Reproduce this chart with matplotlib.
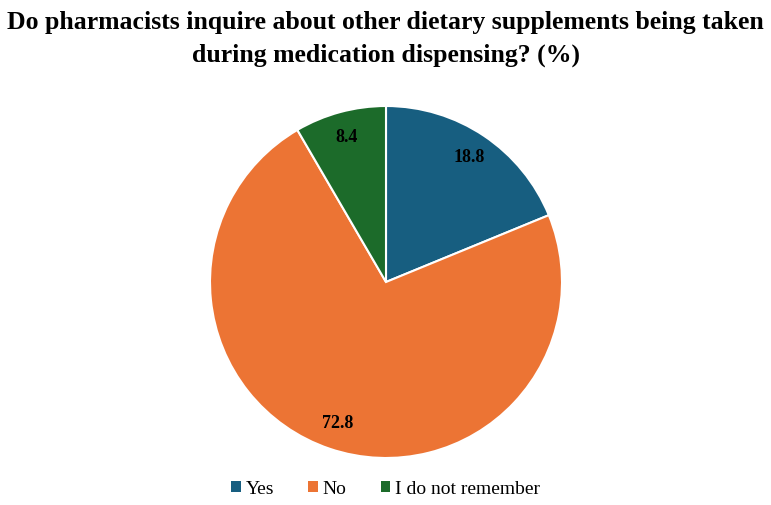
import matplotlib
matplotlib.use("Agg")
import matplotlib.pyplot as plt
from matplotlib.patches import Patch

categories = ["Yes", "No", "I do not remember"]
values = [18.8, 72.8, 8.4]
colors = ["#175E80", "#EC7434", "#1C6B2A"]
title = "Do pharmacists inquire about other dietary supplements being taken\nduring medication dispensing? (%)"

plt.rcParams['font.family'] = ['Liberation Serif', 'DejaVu Serif']

fig = plt.figure(figsize=(7.71, 5.05), dpi=100)
ax = fig.add_axes([0, 0, 1, 1])

cx, cy, r = 386, 505 - 282, 176
wedges, texts, autotexts = ax.pie(
    values, colors=colors, startangle=90, counterclock=False,
    center=(cx, cy), radius=r, frame=True,
    autopct=lambda p: f"{p:.1f}", pctdistance=0.85,
    wedgeprops=dict(edgecolor="white", linewidth=1.5),
    textprops=dict(fontsize=13, fontweight="bold", color="black"))
ax.set_xlim(0, 771)
ax.set_ylim(0, 505)
ax.set_aspect('equal')
ax.axis('off')

fig.text(0.5, 1 - 39 / 505, title, ha="center", va="center",
         fontsize=18.5, fontweight="bold", linespacing=1.55)

handles = [Patch(facecolor=c, edgecolor="none") for c in colors]
fig.legend(handles, categories, loc="center", bbox_to_anchor=(0.5, 1 - 489 / 505),
           ncol=3, frameon=False, fontsize=14, handlelength=0.5, handleheight=0.5,
           columnspacing=1.75, handletextpad=0.25)

fig.savefig("out.png", dpi=100)
